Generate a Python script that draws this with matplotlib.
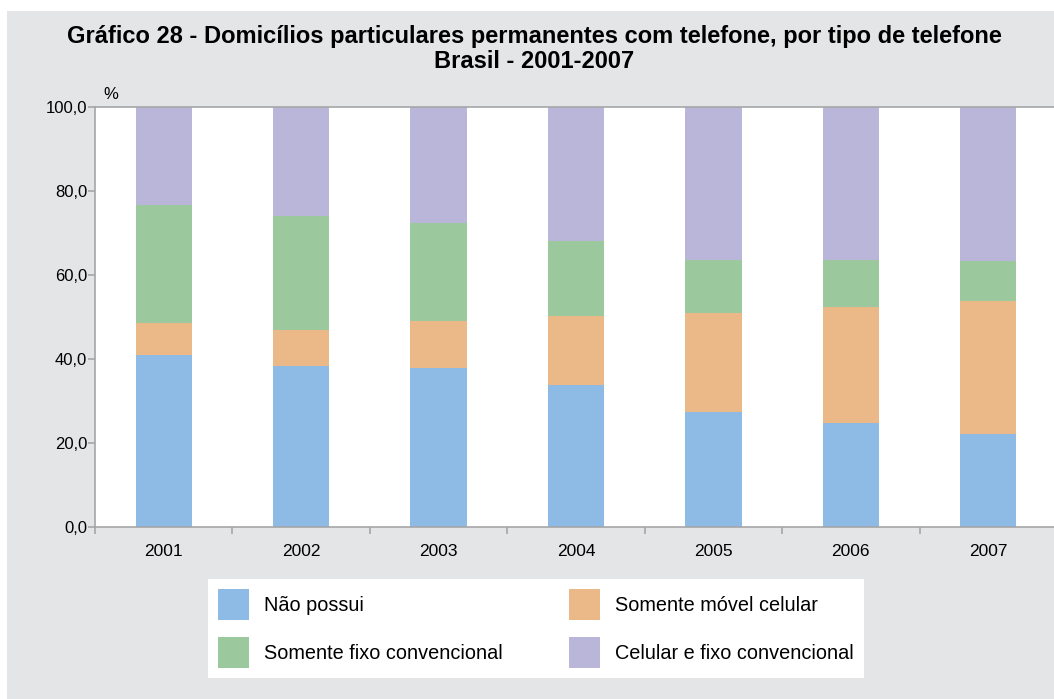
import numpy as np
import matplotlib.pyplot as plt
from matplotlib.patches import Rectangle, Patch

# data (percent of households)
anos = ['2001', '2002', '2003', '2004', '2005', '2006', '2007']
nao_possui = [41.0, 38.3, 37.9, 33.8, 27.4, 24.8, 22.1]
somente_movel = [7.6, 8.6, 11.1, 16.4, 23.6, 27.6, 31.7]
somente_fixo = [28.1, 27.1, 23.3, 17.9, 12.6, 11.2, 9.5]
celular_e_fixo = [23.3, 26.0, 27.7, 31.9, 36.4, 36.4, 36.7]

cores = {
    'nao': '#8dbbe5',
    'movel': '#ebb987',
    'fixo': '#9bc89d',
    'ambos': '#bab6d9',
}
cinza_fundo = '#e4e5e7'
cinza_eixo = '#a5a6a8'

plt.rcParams['font.family'] = ['Liberation Sans', 'DejaVu Sans']

fig = plt.figure(figsize=(10.54, 6.99), dpi=100)
fig.patch.set_facecolor('white')
fig.add_artist(Rectangle((7 / 1054, 0), 1, 1 - 11 / 699, transform=fig.transFigure,
                         facecolor=cinza_fundo, edgecolor='none', zorder=-10))

ax = fig.add_axes([95 / 1054, 1 - 527 / 699, 962 / 1054, 420 / 699])
ax.set_facecolor('white')

x = np.arange(len(anos))
w = 0.41
base = np.zeros(len(anos))
series = [
    (nao_possui, cores['nao'], 'Não possui'),
    (somente_movel, cores['movel'], 'Somente móvel celular'),
    (somente_fixo, cores['fixo'], 'Somente fixo convencional'),
    (celular_e_fixo, cores['ambos'], 'Celular e fixo convencional'),
]
for vals, cor, nome in series:
    ax.bar(x, vals, w, bottom=base, color=cor, edgecolor='none', zorder=2)
    base = base + np.array(vals)

ax.set_xlim(-0.5, len(anos) - 0.5)
ax.set_ylim(0, 100)

ax.set_yticks(np.arange(0, 101, 20))
ax.set_yticklabels([f'{v:.1f}'.replace('.', ',') for v in np.arange(0, 101, 20)], fontsize=12)
ax.set_xticks(x)
ax.set_xticklabels(anos, fontsize=12.5)
ax.set_xticks(np.arange(-0.5, len(anos)), minor=True)
ax.tick_params(axis='x', which='major', length=0, pad=12)
ax.tick_params(axis='x', which='minor', length=5, color=cinza_eixo, width=1.2)
ax.tick_params(axis='y', length=5, color=cinza_eixo, width=1.2, pad=0.5)

for s in ['left', 'bottom', 'top']:
    ax.spines[s].set_color(cinza_eixo)
    ax.spines[s].set_linewidth(1.2)
ax.spines['right'].set_visible(False)

ax.text(0.009, 1.012, '%', transform=ax.transAxes, fontsize=12, ha='left', va='bottom')

fig.text(0.507, 1 - 37 / 699,
         'Gráfico 28 - Domicílios particulares permanentes com telefone, por tipo de telefone',
         ha='center', va='center', fontsize=17, fontweight='bold')
fig.text(0.507, 1 - 62 / 699, 'Brasil - 2001-2007',
         ha='center', va='center', fontsize=17, fontweight='bold')

# legend, column-major order
ordem = [0, 2, 1, 3]
handles = [Patch(facecolor=series[i][1], edgecolor='none') for i in ordem]
labels = [series[i][2] for i in ordem]
leg = fig.legend(handles, labels, ncol=2, loc='upper left',
                 bbox_to_anchor=(208 / 1054, 1 - 579 / 699),
                 fontsize=14.3, frameon=True, fancybox=False, framealpha=1,
                 edgecolor='none', facecolor='white',
                 handlelength=1.56, handleheight=2.0, handletextpad=0.75,
                 labelspacing=0.9, columnspacing=3.35, borderpad=0.5,
                 borderaxespad=0)

fig.savefig('out.png', dpi=100, facecolor=fig.get_facecolor())
